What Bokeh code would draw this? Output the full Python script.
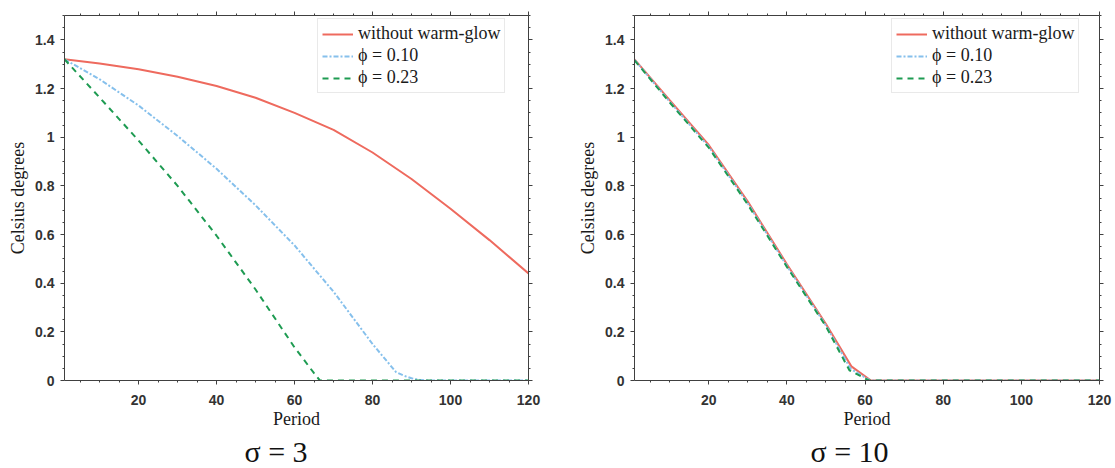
from bokeh.plotting import figure
from bokeh.layouts import row
from bokeh.models import (LinearAxis, FixedTicker, NumeralTickFormatter, Legend,
                          LegendItem, Title, Range1d, CustomLabelingPolicy)
from bokeh.embed import file_html
from bokeh.resources import INLINE

# ---------------- data ----------------
series_names = ["without warm-glow", "\u03d5 = 0.10", "\u03d5 = 0.23"]
panel_titles = ["\u03c3 = 3", "\u03c3 = 10"]

# sigma = 3
red3_t = [1, 10, 20, 30, 40, 50, 60, 70, 80, 90, 100, 110, 120]
red3_v = [1.32, 1.303, 1.279, 1.248, 1.21, 1.162, 1.10, 1.03, 0.937, 0.828, 0.706, 0.577, 0.44]
blue3_t = [1, 10, 20, 30, 40, 50, 60, 70, 80, 86, 88, 90, 92, 94, 120]
blue3_v = [1.32, 1.238, 1.13, 1.005, 0.87, 0.72, 0.555, 0.365, 0.15, 0.035, 0.02, 0.009, 0.003, 0.0, 0.0]
green3_t = [1, 10, 20, 30, 40, 50, 60, 65, 66.5, 120]
green3_v = [1.32, 1.163, 0.986, 0.80, 0.595, 0.374, 0.136, 0.03, 0.0, 0.0]

# sigma = 10
red10_t = [1, 10, 20, 30, 40, 50, 56.5, 61.5, 120]
red10_v = [1.32, 1.152, 0.968, 0.735, 0.478, 0.232, 0.058, 0.0, 0.0]
blue10_t = [1, 10, 20, 30, 40, 50, 56.3, 61.3, 120]
blue10_v = [1.318, 1.146, 0.961, 0.728, 0.471, 0.226, 0.048, 0.0, 0.0]
green10_t = [1, 10, 20, 30, 40, 50, 56.0, 61.0, 120]
green10_v = [1.316, 1.143, 0.957, 0.723, 0.467, 0.222, 0.042, 0.0, 0.0]

x_ticks = [20, 40, 60, 80, 100, 120]
x_minor = [5, 10, 15, 25, 30, 35, 45, 50, 55, 65, 70, 75, 85, 90, 95, 105, 110, 115]
y_ticks = [0, 0.2, 0.4, 0.6, 0.8, 1.0, 1.2, 1.4]
y_minor = [0.05, 0.1, 0.15, 0.25, 0.3, 0.35, 0.45, 0.5, 0.55, 0.65, 0.7, 0.75,
           0.85, 0.9, 0.95, 1.05, 1.1, 1.15, 1.25, 1.3, 1.35, 1.45, 1.5]

RED = "#EE6A5E"
BLUE = "#86C0EC"
GREEN = "#1E9B52"
AX = "#404040"
SERIF = "Liberation Serif"
SANS = "Liberation Sans"


def style_axis(ax, show_labels):
    ax.axis_line_color = AX
    ax.axis_line_width = 1
    ax.major_tick_line_color = AX
    ax.minor_tick_line_color = AX
    ax.major_tick_in = 0
    ax.major_tick_out = 4
    ax.minor_tick_in = 0
    ax.minor_tick_out = 2
    if show_labels:
        ax.major_label_text_font = SANS
        ax.major_label_text_font_style = "bold"
        ax.major_label_text_font_size = "14px"
        ax.major_label_text_color = "#333333"
    else:
        ax.major_label_text_font_size = "1px"
        ax.major_label_standoff = 0
        ax.major_label_policy = CustomLabelingPolicy(code="return new Set()")


def make_panel(title, data, width, left, right, legend_xy, title_offset):
    p = figure(width=width, height=468, x_range=Range1d(1, 120), y_range=Range1d(0, 1.5),
               output_backend="svg", toolbar_location=None,
               min_border_left=left, min_border_right=right,
               min_border_top=15, min_border_bottom=87,
               x_axis_label="Period", y_axis_label="Celsius degrees")
    p.grid.visible = False
    p.outline_line_color = None
    p.background_fill_color = "white"
    p.border_fill_color = "white"

    p.xaxis.ticker = FixedTicker(ticks=x_ticks, minor_ticks=x_minor)
    p.yaxis.ticker = FixedTicker(ticks=y_ticks, minor_ticks=y_minor)
    p.yaxis.formatter = NumeralTickFormatter(format="0.[0]")
    for ax in p.xaxis:
        style_axis(ax, True)
        ax.major_label_standoff = 10
        ax.axis_label_standoff = 1
    for ax in p.yaxis:
        style_axis(ax, True)
        ax.major_label_standoff = 6
        ax.axis_label_standoff = 4
    for ax in list(p.xaxis) + list(p.yaxis):
        ax.axis_label_text_font = SERIF
        ax.axis_label_text_font_style = "normal"
        ax.axis_label_text_font_size = "18px"
        ax.axis_label_text_color = "#1a1a1a"

    top = LinearAxis(ticker=FixedTicker(ticks=x_ticks, minor_ticks=x_minor))
    style_axis(top, False)
    p.add_layout(top, "above")
    rgt = LinearAxis(ticker=FixedTicker(ticks=y_ticks, minor_ticks=y_minor))
    style_axis(rgt, False)
    p.add_layout(rgt, "right")

    (rt, rv), (bt, bv), (gt, gv) = data
    r1 = p.line(rt, rv, line_color=RED, line_width=2)
    r2 = p.line(bt, bv, line_color=BLUE, line_width=2, line_dash="5 2 2 2")
    r3 = p.line(gt, gv, line_color=GREEN, line_width=2, line_dash="6 5")

    legend = Legend(items=[LegendItem(label=series_names[0], renderers=[r1]),
                           LegendItem(label=series_names[1], renderers=[r2]),
                           LegendItem(label=series_names[2], renderers=[r3])],
                    location=legend_xy, margin=0, padding=4, spacing=1,
                    glyph_width=31, glyph_height=20, label_height=20, label_standoff=5,
                    label_text_font=SERIF, label_text_font_size="18px",
                    label_text_color="#1a1a1a",
                    border_line_color="#d4d4d4", border_line_width=1,
                    background_fill_color="white", background_fill_alpha=1)
    p.add_layout(legend, "center")

    ttl = Title(text=title, align="left", offset=title_offset, standoff=2,
                text_font=SERIF, text_font_size="30px", text_font_style="normal",
                text_color="#111111")
    p.add_layout(ttl, "below")
    return p


p1 = make_panel(panel_titles[0],
                [(red3_t, red3_v), (blue3_t, blue3_v), (green3_t, green3_v)],
                width=560, left=64, right=32, legend_xy=(253, 287), title_offset=180)
p2 = make_panel(panel_titles[1],
                [(red10_t, red10_v), (blue10_t, blue10_v), (green10_t, green10_v)],
                width=555, left=74, right=16, legend_xy=(257, 287), title_offset=176)

layout = row(p1, p2)
open("out.html", "w").write(file_html(layout, INLINE))
